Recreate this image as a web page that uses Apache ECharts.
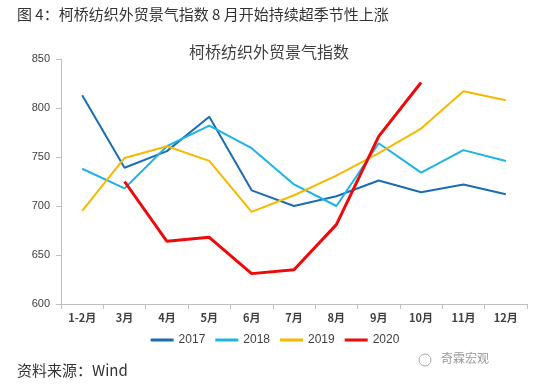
<!DOCTYPE html>
<html><head><meta charset="utf-8">
<script src="https://cdn.jsdelivr.net/npm/echarts@6/dist/echarts.min.js"></script>
<style>html,body{margin:0;padding:0;background:#fff}#c{width:550px;height:389px}</style>
</head><body><div id="c"></div>
<script>
const categories = ['1-2月','3月','4月','5月','6月','7月','8月','9月','10月','11月','12月'];
const s2017 = [813, 739, 756, 791, 716, 700, 710, 726, 714, 722, 712];
const s2018 = [738, 718, 761, 782, 759, 722, 700, 764, 734, 757, 746];
const s2019 = [695, 749, 761, 746, 694, 711, 731, 754, 779, 817, 808];
const s2020 = [null, 725, 664, 668, 631, 635, 681, 771, 826, null, null];
const yTicks = [600, 650, 700, 750, 800, 850];

const cjk = '"Noto Sans CJK SC", sans-serif';
const chart = echarts.init(document.getElementById('c'));
function ln(name, data, color, w){
  return {name, type:'line', data, symbol:'none', connectNulls:false,
    lineStyle:{color, width:w}, itemStyle:{color}};
}
chart.setOption({
  animation:false,
  backgroundColor:'#fff',
  title:{text:'柯桥纺织外贸景气指数', left:264, top:39, textAlign:'center',
    textStyle:{fontFamily:cjk, fontSize:16, fontWeight:'normal', color:'#404040'}},
  grid:{left:61, right:23, top:59, bottom:85},
  legend:{bottom:38, left:'center', itemWidth:23, itemHeight:3, itemGap:10,
    icon:'rect',
    textStyle:{fontFamily:'"Liberation Sans", Arial, sans-serif', fontSize:12, color:'#404040'},
    data:['2017','2018','2019','2020']},
  xAxis:{type:'category', data:categories, boundaryGap:true,
    axisLine:{lineStyle:{color:'#bfbfbf'}},
    axisTick:{show:true, lineStyle:{color:'#bfbfbf'}},
    axisLabel:{fontFamily:cjk, fontSize:11, color:'#404040', margin:8, fontWeight:'bold'}},
  yAxis:{type:'value', min:yTicks[0], max:yTicks[yTicks.length-1], interval:50,
    axisLine:{show:true, lineStyle:{color:'#bfbfbf'}},
    axisTick:{show:true, length:5, lineStyle:{color:'#bfbfbf'}},
    splitLine:{show:false},
    axisLabel:{fontFamily:'"Liberation Sans", Arial, sans-serif', fontSize:11, color:'#404040', margin:11}},
  series:[
    ln('2017', s2017, '#1b6db3', 2),
    ln('2018', s2018, '#1cb3e8', 2),
    ln('2019', s2019, '#f7b800', 2),
    ln('2020', s2020, '#ee0a0a', 3)
  ],
  graphic:[
    {type:'text', left:17, top:7, style:{text:'图 4：柯桥纺织外贸景气指数 8 月开始持续超季节性上涨',
      font:'15px "Noto Sans CJK SC", sans-serif', fill:'#333'}},
    {type:'text', left:17, top:363, style:{text:'资料来源：Wind',
      font:'15px "Noto Sans CJK SC", sans-serif', fill:'#333'}},
    {type:'circle', shape:{cx:425, cy:360, r:6}, style:{fill:'none', stroke:'#aaa', lineWidth:1}},
    {type:'text', left:441, top:352, style:{text:'奇霖宏观',
      font:'12px "Noto Sans CJK SC", sans-serif', fill:'#999'}}
  ]
});
</script></body></html>
